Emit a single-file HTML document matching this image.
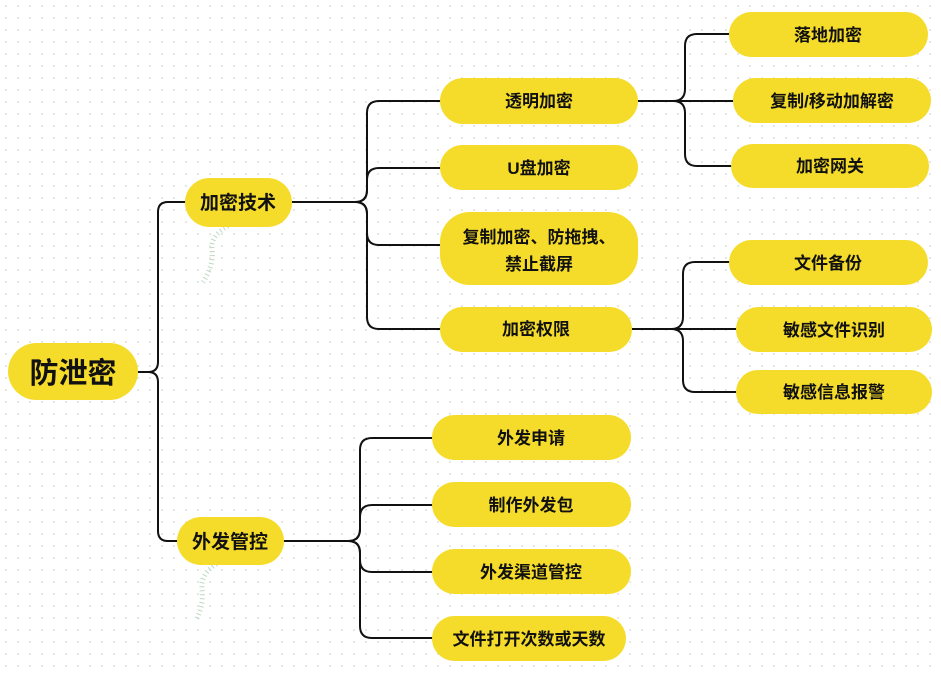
<!DOCTYPE html>
<html><head><meta charset="utf-8"><style>
html,body{margin:0;padding:0;background:#fff;}
svg{display:block;}
text{font-family:"Liberation Sans","Noto Sans CJK SC",sans-serif;font-weight:bold;fill:#111;}
</style></head><body>
<svg width="941" height="677" viewBox="0 0 941 677" xmlns="http://www.w3.org/2000/svg">
<defs>
<pattern id="dots" width="12" height="12" patternUnits="userSpaceOnUse">
<circle cx="6" cy="6" r="0.9" fill="#d6d6d6"/>
</pattern>
</defs>
<rect width="941" height="677" fill="url(#dots)"/>
<g fill="none" stroke="#111" stroke-width="2">
<!-- root -->
<path d="M138 372 H148 Q158 372 158 362 V212 Q158 202 168 202 H186"/>
<path d="M148 372 Q158 372 158 382 V531 Q158 541 168 541 H178"/>
<!-- 加密技术 -->
<path d="M292 202 H355 Q367 202 367 190 V113 Q367 101 379 101 H441"/>
<path d="M355 202 Q367 202 367 190 V180 Q367 168 379 168 H441"/>
<path d="M355 202 Q367 202 367 214 V233 Q367 245 379 245 H441"/>
<path d="M355 202 Q367 202 367 214 V317 Q367 329 379 329 H441"/>
<!-- 外发管控 -->
<path d="M284 541 H348 Q360 541 360 529 V450 Q360 438 372 438 H433"/>
<path d="M348 541 Q360 541 360 529 V517 Q360 505 372 505 H433"/>
<path d="M348 541 Q360 541 360 553 V560 Q360 572 372 572 H433"/>
<path d="M348 541 Q360 541 360 553 V626 Q360 638 372 638 H433"/>
<!-- 透明加密 -->
<path d="M638 101 H673 Q685 101 685 89 V46 Q685 34 697 34 H730"/>
<path d="M673 101 H734"/>
<path d="M673 101 Q685 101 685 113 V154 Q685 166 697 166 H732"/>
<!-- 加密权限 -->
<path d="M632 329 H671 Q683 329 683 317 V274 Q683 262 695 262 H730"/>
<path d="M671 329 H737"/>
<path d="M671 329 Q683 329 683 341 V380 Q683 392 695 392 H737"/>
</g>
<!-- squiggles -->
<g fill="none" stroke="#b9d8c0" stroke-width="5" stroke-dasharray="1 3">
<path d="M228 226 Q210 236 212 250 Q214 265 203 282"/>
<path d="M220 562 Q200 572 202 590 Q204 605 196 620"/>
</g>
<g fill="#f5dc2a">
<rect x="8" y="343" width="130" height="57" rx="28.5"/>
<rect x="185" y="178" width="107" height="49" rx="24.5"/>
<rect x="177" y="517" width="107" height="48" rx="24"/>
<rect x="440" y="78" width="198" height="46" rx="23"/>
<rect x="440" y="145" width="198" height="45" rx="22.5"/>
<rect x="440" y="212" width="198" height="73" rx="30"/>
<rect x="440" y="307" width="192" height="45" rx="22.5"/>
<rect x="729" y="12" width="199" height="45" rx="22.5"/>
<rect x="733" y="78" width="198" height="45" rx="22.5"/>
<rect x="731" y="144" width="198" height="44" rx="22"/>
<rect x="729" y="240" width="199" height="45" rx="22.5"/>
<rect x="736" y="307" width="196" height="45" rx="22.5"/>
<rect x="736" y="370" width="196" height="44" rx="22"/>
<rect x="432" y="415" width="199" height="45" rx="22.5"/>
<rect x="432" y="482" width="199" height="45" rx="22.5"/>
<rect x="432" y="549" width="199" height="45" rx="22.5"/>
<rect x="432" y="616" width="194" height="45" rx="22.5"/>
</g>
<g text-anchor="middle" font-size="17">
<text x="73" y="383" font-size="29">防泄密</text>
<text x="238" y="209" font-size="19">加密技术</text>
<text x="230" y="548" font-size="19">外发管控</text>
<text x="539" y="107">透明加密</text>
<text x="539" y="174">U盘加密</text>
<text x="539" y="243">复制加密、防拖拽、</text>
<text x="539" y="270">禁止截屏</text>
<text x="536" y="335">加密权限</text>
<text x="828" y="41">落地加密</text>
<text x="832" y="107">复制/移动加解密</text>
<text x="830" y="172">加密网关</text>
<text x="828" y="269">文件备份</text>
<text x="834" y="336">敏感文件识别</text>
<text x="834" y="398">敏感信息报警</text>
<text x="531" y="444">外发申请</text>
<text x="531" y="511">制作外发包</text>
<text x="531" y="578">外发渠道管控</text>
<text x="529" y="645">文件打开次数或天数</text>
</g>
</svg>
</body></html>
